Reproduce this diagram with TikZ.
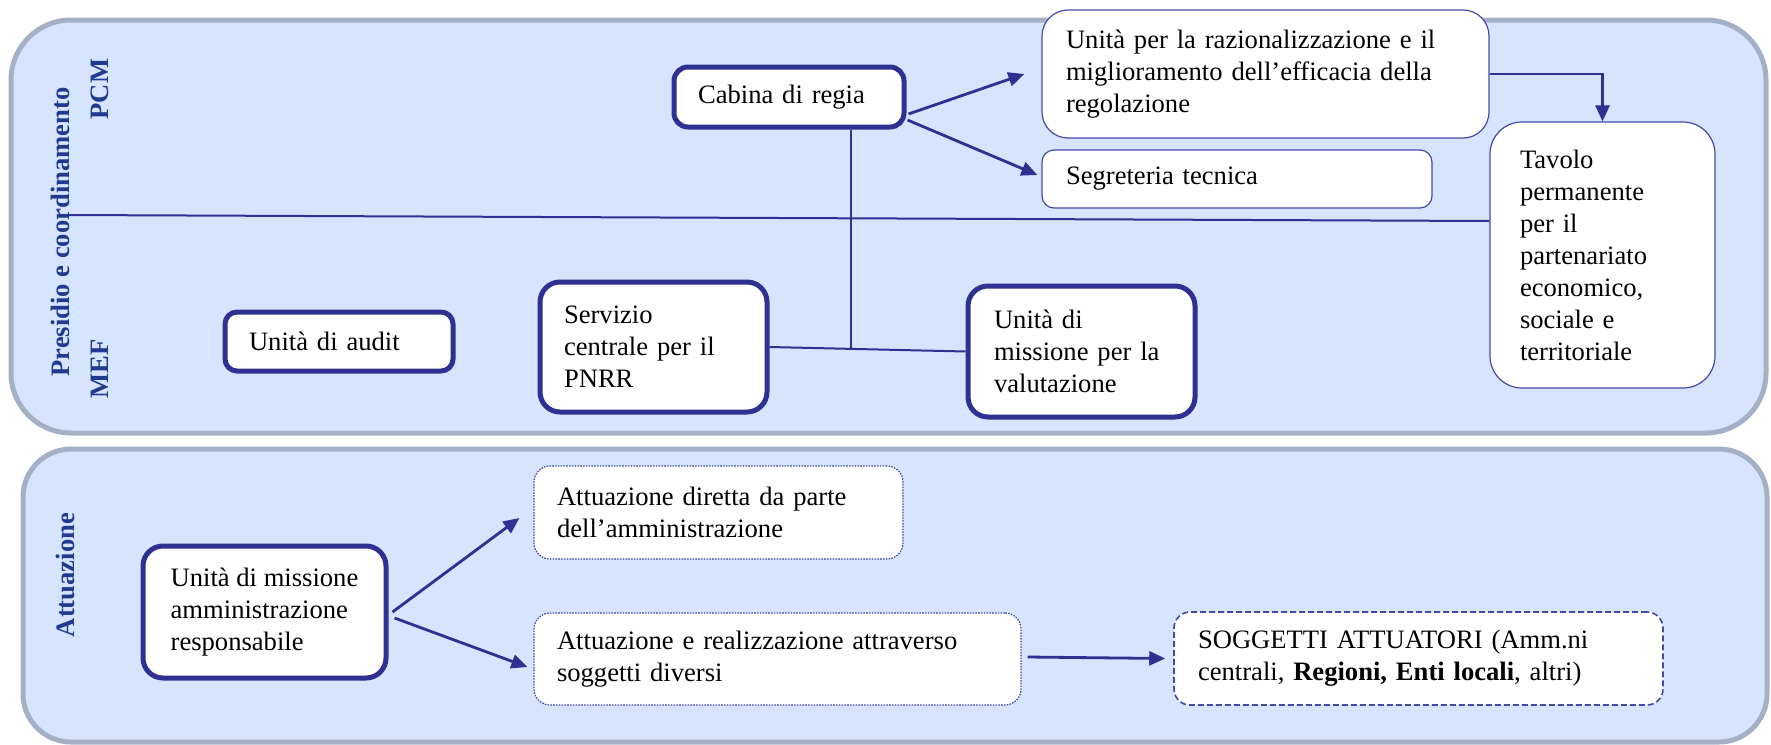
\documentclass[tikz,border=0pt]{standalone}
\usepackage{fontspec}
\setmainfont{Liberation Serif}
\usetikzlibrary{arrows.meta}
\definecolor{navy}{HTML}{2E3192}
\definecolor{panelfill}{HTML}{D6E4FD}
\definecolor{panelline}{HTML}{A3B0C6}
\definecolor{labelblue}{HTML}{1F3A8F}
\definecolor{thinline}{HTML}{4549A8}
\begin{document}
\begin{tikzpicture}[x=0.5pt,y=-0.5pt,
 every node/.style={font=\fontsize{13.3pt}{16pt}\selectfont, text=black},
 box/.style={draw=navy, fill=white, align=left, inner xsep=12pt, inner ysep=0pt, anchor=center,
   execute at begin node={\hyphenpenalty=10000\exhyphenpenalty=10000\hbadness=10000\hfuzz=20pt}},
 thickbox/.style={box, line width=2.5pt},
 thinbox/.style={box, draw=thinline, line width=0.6pt},
 dotbox/.style={box, draw=thinline, line width=0.6pt, dash pattern=on 0.8pt off 0.6pt},
 dashbox/.style={box, draw=thinline, line width=0.8pt, dash pattern=on 3pt off 1.5pt},
 conn/.style={draw=navy, line width=1.4pt, -{Triangle[length=8pt,width=7pt]}},
 rulez/.style={draw=navy, line width=1pt},
 lab/.style={font=\fontsize{13.3pt}{16pt}\selectfont\bfseries, text=labelblue, rotate=90, anchor=base},
 panel/.style={fill=panelfill, draw=panelline, line width=2.5pt}
]
\useasboundingbox (0,0) rectangle (1771,744);
% panels
\path[panel, rounded corners=30pt] (11,20) rectangle (1766,433);
\path[panel, rounded corners=24pt] (23,449) rectangle (1767,742);

% labels
\node[lab] (lpres) at (69,232) {Presidio e coordinamento};
\node[lab] (lpcm) at (108,89) {PCM};
\node[lab] (lmef) at (108,369) {MEF};
\node[lab] (latt) at (74,575) {Attuazione};

% top nodes
\node[thickbox, rounded corners=7pt, minimum width=115pt, minimum height=30pt, text width=91pt] (cab) at (789,97) {Cabina di regia};
\node[thinbox, rounded corners=13pt, minimum width=223.5pt, minimum height=64pt, text width=199.5pt] (ur) at (1265.5,74) {Unità per la razionalizzazione e il\\ miglioramento dell’efficacia della\\ regolazione};
\node[thinbox, rounded corners=6pt, minimum width=195pt, minimum height=29pt, text width=171pt] (seg) at (1237,179) {Segreteria tecnica};
\node[thinbox, rounded corners=16pt, inner xsep=15pt, minimum width=112.5pt, minimum height=133pt, text width=82.5pt] (tav) at (1602.5,255) {Tavolo\\ permanente\\ per il\\ partenariato\\ economico,\\ sociale e\\ territoriale};
\node[thickbox, rounded corners=6pt, minimum width=114pt, minimum height=29.5pt, text width=90pt] (aud) at (339,341.5) {Unità di audit};
\node[thickbox, rounded corners=10pt, minimum width=113.5pt, minimum height=65pt, text width=89.5pt] (ser) at (653.5,347) {Servizio\\ centrale per il\\ PNRR};
\node[thickbox, rounded corners=10pt, inner xsep=13pt, minimum width=113.5pt, minimum height=65.5pt, text width=87.5pt] (val) at (1081.5,351.5) {Unità di\\ missione per la\\ valutazione};

% bottom nodes
\node[thickbox, rounded corners=10pt, inner xsep=6pt, minimum width=121.5pt, minimum height=66pt] (um) at (264.5,612) {Unità di missione\\ amministrazione\\ responsabile};
\node[dotbox, rounded corners=8pt, inner xsep=11.5pt, minimum width=184.5pt, minimum height=46.5pt, text width=161.5pt] (ad) at (718.5,512.5) {Attuazione diretta da parte\\ dell’amministrazione};
\node[dotbox, rounded corners=8pt, inner xsep=11.5pt, minimum width=243.5pt, minimum height=46pt, text width=220.5pt] (ar) at (777.5,659) {Attuazione e realizzazione attraverso\\ soggetti diversi};
\node[dashbox, rounded corners=8pt, minimum width=244.5pt, minimum height=46.5pt, text width=220.5pt] (sog) at (1418.5,658.5) {SOGGETTI ATTUATORI (Amm.ni\\ centrali, \textbf{Regioni, Enti locali}, altri)};

% connectors
\draw[conn] ([xshift=1pt,yshift=-8.5pt]cab.east) -- ([xshift=-8.5pt]ur.west);
\draw[conn] ([xshift=0.5pt,yshift=-11.5pt]cab.east) -- ([xshift=-2pt,yshift=2pt]seg.west);
\draw[conn] (ur.east) -| (tav.north);
\coordinate (divL) at (69,215);
\draw[rulez] (divL) -- ([yshift=17pt]tav.west);
\coordinate (jn) at (851,349);
\draw[rulez, line width=0.8pt] ([xshift=31pt]cab.south) -- (jn);
\draw[rulez] (ser.east) -- (val.west);

\draw[conn] ([xshift=2pt]um.east) -- ([xshift=-7pt,yshift=-2.75pt]ad.west);
\draw[conn] ([xshift=3pt,yshift=-3pt]um.east) -- ([xshift=-3pt,yshift=-4pt]ar.west);
\draw[conn] ([xshift=3pt,yshift=1pt]ar.east) -- ([xshift=-4pt]sog.west);
\end{tikzpicture}
\end{document}
